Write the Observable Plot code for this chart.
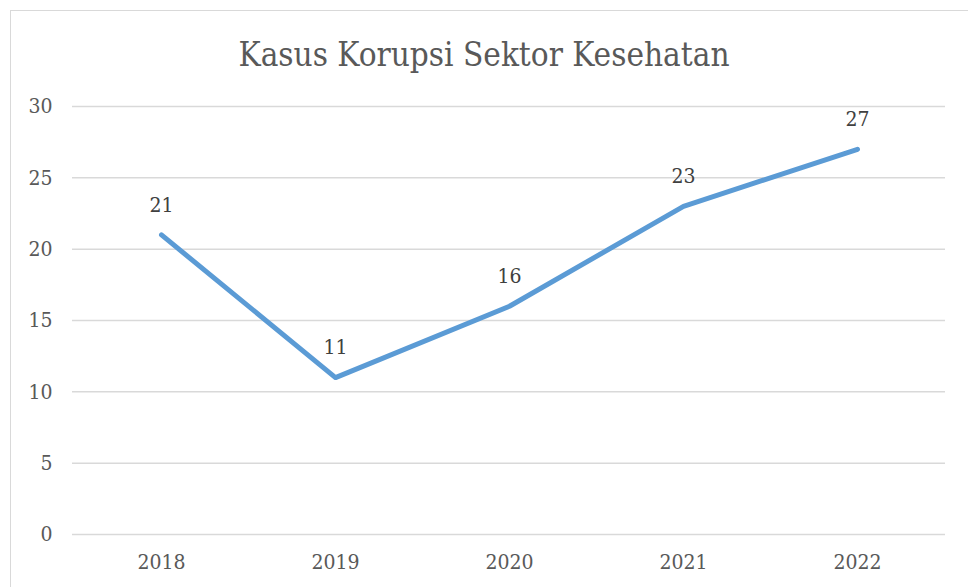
<!DOCTYPE html>
<html>
<head>
<meta charset="utf-8">
<script src="https://cdn.jsdelivr.net/npm/d3@7"></script>
<script src="https://cdn.jsdelivr.net/npm/@observablehq/plot@0.6"></script>
<style>
  html, body { margin: 0; padding: 0; background: #fff; }
  body { width: 968px; height: 587px; position: relative; overflow: hidden; }
  #frame { position: absolute; left: 10px; top: 10px; width: 1000px; height: 700px; border: 1px solid #d9d9d9; box-sizing: border-box; pointer-events: none; }
  #title { position: absolute; left: 0; top: 0; width: 968px; height: 90px; text-align: center; font-family: "DejaVu Serif Condensed", "DejaVu Serif", serif; font-stretch: condensed; font-size: 33px; color: #595959; line-height: 110px; }
  #chart { position: absolute; left: 0; top: 90px; }
  #chart svg, #chart svg text { font-family: "DejaVu Serif Condensed", "DejaVu Serif", serif !important; font-stretch: condensed; }
</style>
</head>
<body>
<div id="frame"></div>
<div id="title">Kasus Korupsi Sektor Kesehatan</div>
<div id="chart"></div>
<script>
const years = ["2018", "2019", "2020", "2021", "2022"];
const cases = [21, 11, 16, 23, 27];
const yTicks = [0, 5, 10, 15, 20, 25, 30];

const data = years.map((y, i) => ({ year: y, value: cases[i] }));
const serif = "'DejaVu Serif Condensed', 'DejaVu Serif', serif";

const plot = Plot.plot({
  width: 968,
  height: 497,
  marginLeft: 72,
  marginRight: 23,
  marginTop: 16,
  marginBottom: 53,
  style: { fontFamily: serif, fontSize: "21px", color: "#595959", background: "transparent" },
  x: { type: "point", domain: years, padding: 0.5, label: null },
  y: { domain: [0, 30], ticks: yTicks, label: null },
  marks: [
    Plot.gridY(yTicks, { stroke: "#d9d9d9", strokeOpacity: 1, strokeWidth: 1.5 }),
    Plot.axisY(yTicks, { tickSize: 0, tickPadding: 20, fill: "#595959", fontSize: 21, fontFamily: serif, label: null }),
    Plot.axisX(years, { tickSize: 0, tickPadding: 20, fill: "#595959", fontSize: 21, fontFamily: serif, label: null }),
    Plot.line(data, { x: "year", y: "value", stroke: "#5B9BD5", strokeWidth: 5, strokeLinecap: "round", strokeLinejoin: "round" }),
    Plot.text(data, { x: "year", y: "value", text: d => String(d.value), dy: -30, fill: "#404040", fontSize: 21, fontFamily: serif })
  ]
});
document.getElementById("chart").appendChild(plot);
</script>
</body>
</html>
